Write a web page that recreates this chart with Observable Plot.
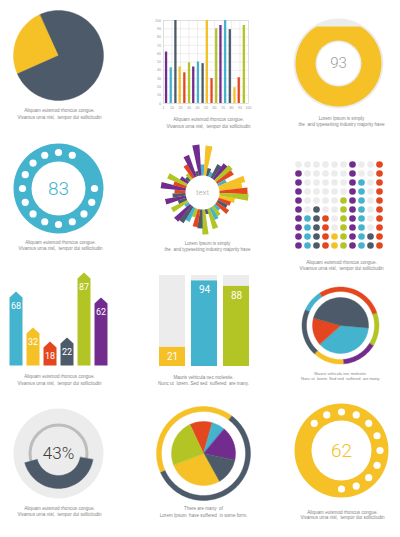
<!DOCTYPE html>
<html><head><meta charset="utf-8">
<script src="https://cdn.jsdelivr.net/npm/d3@7"></script>
<script src="https://cdn.jsdelivr.net/npm/@observablehq/plot@0.6"></script>
<style>
body{margin:0;background:#fff}
#chart{position:relative;width:400px;height:537px;overflow:hidden;background:#fff;font-family:"Liberation Sans",Arial,sans-serif}
#chart svg{position:absolute;max-width:none}
</style>
</head><body><div id="chart"></div>
<script>
// ---------- DATA ----------
const COLORS = {y:"#f5c126", s:"#4c5a69", t:"#44b3ce", r:"#e4471f", g:"#b3c425", p:"#712c8d"};
const LIGHT = "#ececec";

const pie1Values = [25, 75];
const pie1Colors = ["y", "s"];

const barX = [3, 8.5, 14, 19, 24.5, 30, 35, 40.5, 46, 51, 56.5, 62, 67, 72.5, 78, 83.5, 88.5, 94.5];
const barValues = [62, 43, 100, 44, 37, 49, 44, 50, 48, 100, 30, 90, 94, 100, 89, 19, 31, 94];
const barColors = ["p","t","s","y","r","g","p","t","s","y","r","g","p","t","s","y","r","g"];
const barXTicks = [0, 10, 20, 30, 40, 50, 60, 70, 80, 90, 100];
const barXTickLabels = ["1","10","20","30","40","50","60","70","80","90","100"];
const barYTicks = [0, 10, 20, 30, 40, 50, 60, 70, 80, 90, 100];

const donut3Value = 93;

const ring4Label = "83";
const ring4DotAngles = [0, 22.5, 90, 112.5, 135, 157.5, 180, 202.5, 225, 247.5, 270, 292.5, 315, 337.5];

const burstColors = ["t","y","s","t","s","p","g","r","t","y","y","r","g","y","r","s","r","t","g","t","g","s","g","s","r","g","t","s","p","t","g","s","p","s","r","p","r","g","p","s","g","r","p","s","p"];
const burstLengths = [28,47,25,22,32,36,38,36,26,44,40,45,46,33,30,28,32,24,28,30,38,22,42,36,35,26,32,36,38,22,35,26,38,30,28,42,30,38,26,22,24,32,40,22,48];
const burstLabel = "text";

const matrixCounts = [9, 4, 5, 4, 2, 6, 10, 8, 2, 10];
const matrixColors = ["p","t","s","r","y","g","p","t","s","r"];

const arrowValues = [68, 32, 18, 22, 87, 62];
const arrowColors = ["t","y","r","s","g","p"];

const tallValues = [21, 94, 88];
const tallColors = ["y","t","g"];

const ring9Values = [29, 14, 15, 13, 20, 9];
const ring9Colors = ["r","g","p","y","s","t"];
const pie9Values = [37, 16, 47];
const pie9Colors = ["t","r","s"];

const gauge10Value = 43;

const ring11Values = [42, 58];
const ring11Colors = ["y","s"];
const pie11Values = [11.4, 6.7, 17.2, 13.6, 27.2, 23.9];
const pie11Colors = ["r","t","p","s","y","g"];

const ring12Label = "62";
const ring12DotAngles = [-45, -22.5, 0, 22.5, 45, 67.5, 90, 112.5, 135, 157.5, 180];

const capA = "Aliquam euismod rhoncus congue.";
const capV = "Vivamus urna nisl,  tempor dui sollicitudin";
const capL1 = "Lorem Ipsum is simply";
const capL2 = "the  and typesetting industry majority have";
const capM1 = "Mauris vehicula nec molestie.";
const capM2 = "Nunc ut  lorem. Sed sed  suffered  are many.";
const capT1 = "There are many  of";
const capT2 = "Lorem Ipsum  have suffered  in some form.";

// ---------- HELPERS ----------
const chart = document.getElementById("chart");
const BASE_STYLE = {background:"transparent", overflow:"visible", fontFamily:"Liberation Sans, Arial, sans-serif"};
function pt(r, a){ const t = a*Math.PI/180; return {x: r*Math.sin(t), y: r*Math.cos(t)}; }
function arcPoly(r0, r1, a0, a1){
  const n = Math.max(2, Math.ceil(Math.abs(a1-a0)/2));
  const pts = [];
  for (let i=0;i<=n;i++) pts.push(pt(r1, a0+(a1-a0)*i/n));
  if (r0 <= 0) pts.push({x:0,y:0});
  else for (let i=n;i>=0;i--) pts.push(pt(r0, a0+(a1-a0)*i/n));
  return pts;
}
function ray(r0, r1, a, w0, w1){
  const t = a*Math.PI/180, ux = Math.sin(t), uy = Math.cos(t), px = Math.cos(t), py = -Math.sin(t);
  return [
    {x:r0*ux - px*w0/2, y:r0*uy - py*w0/2},
    {x:r1*ux - px*w1/2, y:r1*uy - py*w1/2},
    {x:r1*ux + px*w1/2, y:r1*uy + py*w1/2},
    {x:r0*ux + px*w0/2, y:r0*uy + py*w0/2}
  ];
}
function slices(values, colors, start, r0, r1){
  const total = d3.sum(values); let a = start;
  return values.map((v,i)=>{ const a0=a, a1=a+v/total*360; a=a1; return {pts:arcPoly(r0,r1,a0,a1), color:COLORS[colors[i]]}; });
}
function polyMarks(polys, stroke=true){
  return polys.map(p => Plot.line(p.pts, {x:"x", y:"y", curve:"linear-closed", fill:p.color, stroke: stroke ? p.color : "none", strokeWidth:0.4}));
}
function disc(r, opts){ return Plot.dot([{x:0,y:0}], {x:"x", y:"y", r, ...opts}); }
function label(t, opts){ return Plot.text([{x:0,y:0,t}], {x:"x", y:"y", text:"t", fontFamily:"Roboto", fontWeight:300, ...opts}); }
function roundPlot(size, marks){
  return Plot.plot({width:size, height:size, margin:0, style:BASE_STYLE,
    x:{domain:[-size/2,size/2], axis:null}, y:{domain:[-size/2,size/2], axis:null}, marks});
}
function place(svg, left, top){ svg.style.left = left+"px"; svg.style.top = top+"px"; chart.append(svg); }
function placeRound(cx, cy, size, marks){ place(roundPlot(size, marks), cx-size/2, cy-size/2); }

// ---------- PANEL 1: pie ----------
placeRound(58, 55, 100, polyMarks(slices(pie1Values, pie1Colors, 246, 0, 45)));

// ---------- PANEL 2: bar chart ----------
const barData = barValues.map((v,i)=>({x:barX[i], v, c:COLORS[barColors[i]]}));
place(Plot.plot({
  width:110, height:105, marginLeft:13, marginRight:12, marginTop:10, marginBottom:12,
  style:{...BASE_STYLE, fontSize:"3.6px", color:"#9a9a9a"},
  color:{type:"identity"},
  x:{domain:[0,100], ticks:barXTicks, tickFormat:d=>barXTickLabels[barXTicks.indexOf(d)], tickSize:0, tickPadding:2.5, label:null},
  y:{domain:[0,100], ticks:barYTicks, tickSize:0, tickPadding:2.5, label:null},
  marks:[
    Plot.ruleX(barXTicks, {stroke:"#e3e3e3", strokeWidth:0.6}),
    Plot.ruleY(barYTicks, {stroke:"#e3e3e3", strokeWidth:0.6}),
    Plot.frame({stroke:"#d6d6d6", strokeWidth:0.6}),
    Plot.ruleX(barData, {x:"x", y1:0, y2:"v", stroke:"c", strokeWidth:2.3})
  ]}), 150, 10);

// ---------- PANEL 3: liquid donut ----------
{
  const R = 43, level = -R + 2*R*donut3Value/100;
  const pts = d3.range(0, 361, 3).map(a => { const p = pt(R, a); return {x:p.x, y:Math.min(p.y, level)}; });
  placeRound(338, 63, 100, [
    disc(45, {fill:LIGHT}),
    Plot.line(pts, {x:"x", y:"y", curve:"linear-closed", fill:COLORS.y, stroke:"none"}),
    disc(23, {fill:LIGHT}),
    disc(21.5, {fill:"white"}),
    label(String(donut3Value), {fontSize:15, fill:"#9b9b9b"})
  ]);
}

// ---------- PANEL 4: dotted teal ring ----------
placeRound(58, 188, 100, [
  disc(45, {fill:COLORS.t}),
  disc(27, {fill:"white"}),
  Plot.dot(ring4DotAngles.map(a=>pt(36,a)), {x:"x", y:"y", r:3.6, fill:"white"}),
  label(ring4Label, {fontSize:19, fill:COLORS.t})
]);

// ---------- PANEL 5: radial burst ----------
{
  const n = burstLengths.length, step = 360/n;
  const polys = burstLengths.map((L,i)=>({pts:ray(17, L, i*step, 2.4, L*0.15), color:COLORS[burstColors[i]]}));
  placeRound(202, 192, 110, [
    ...polyMarks(polys, false),
    disc(15, {fill:"white"}),
    label(burstLabel, {fontSize:8, fill:"#a5a5a5"})
  ]);
}

// ---------- PANEL 6: dot matrix ----------
{
  const cells = [];
  matrixCounts.forEach((n, ci) => { for (let r=1;r<=10;r++) cells.push({col:ci+1, row:r, c: r > 10-n ? COLORS[matrixColors[ci]] : LIGHT}); });
  place(Plot.plot({width:100, height:99, margin:7, style:BASE_STYLE, color:{type:"identity"},
    x:{type:"point", domain:d3.range(1,11), padding:0, axis:null},
    y:{type:"point", domain:d3.range(1,11), padding:0, axis:null},
    marks:[Plot.dot(cells, {x:"col", y:"row", r:3.3, fill:"c"})]}), 288, 155);
}

// ---------- PANEL 7: arrow bars ----------
{
  const h = 0.382, tip = 6;
  const marks = arrowValues.map((v,i)=>Plot.line(
    [{x:i-h,y:0},{x:i-h,y:v},{x:i,y:v+tip},{x:i+h,y:v},{x:i+h,y:0}],
    {x:"x", y:"y", curve:"linear-closed", fill:COLORS[arrowColors[i]], stroke:"none"}));
  marks.push(Plot.text(arrowValues.map((v,i)=>({i,v})), {x:"i", y:d=>d.v-9, text:d=>String(d.v), fill:"white", fontSize:9, fontFamily:"Roboto"}));
  place(Plot.plot({width:120, height:100, margin:0, style:BASE_STYLE,
    x:{domain:[-0.912, 6.147], axis:null}, y:{domain:[0,100], axis:null}, marks}), 0, 265);
}

// ---------- PANEL 8: tall bars ----------
{
  const data = tallValues.map((v,i)=>({i, v, c:COLORS[tallColors[i]]}));
  place(Plot.plot({width:110, height:100, marginTop:5, marginBottom:4, marginLeft:8, marginRight:11, style:BASE_STYLE,
    color:{type:"identity"},
    x:{type:"band", domain:[0,1,2], paddingInner:0.2, paddingOuter:0, axis:null},
    y:{domain:[0,100], axis:null},
    marks:[
      Plot.barY(data, {x:"i", y1:()=>0, y2:()=>100, fill:LIGHT, inset:0}),
      Plot.barY(data, {x:"i", y1:()=>0, y2:"v", fill:"c", inset:0}),
      Plot.text(data, {x:"i", y:d=>d.v-10, text:d=>String(d.v), fill:"white", fontSize:10, fontFamily:"Roboto"})
    ]}), 150, 270);
}

// ---------- PANEL 9: pie in segmented ring ----------
placeRound(340, 325, 100, [
  ...polyMarks(slices(ring9Values, ring9Colors, 327, 34, 38.5)),
  ...polyMarks(slices(pie9Values, pie9Colors, 95, 0, 28))
]);

// ---------- PANEL 10: gauge ----------
placeRound(58, 453, 100, [
  disc(45, {fill:LIGHT}),
  disc(28.5, {fill:"none", stroke:"#bdbdbd", strokeWidth:3}),
  ...polyMarks([{pts:arcPoly(22, 35, 100, 100 + gauge10Value/100*360), color:COLORS.s}]),
  label(gauge10Value + "%", {fontSize:17, fill:"#3e3e3e", dy:0})
]);

// ---------- PANEL 11: pie in two-part ring ----------
placeRound(203, 453, 104, [
  ...polyMarks(slices(ring11Values, ring11Colors, 246, 42, 47)),
  ...polyMarks(slices(pie11Values, pie11Colors, 335, 0, 32))
]);

// ---------- PANEL 12: dotted yellow ring ----------
placeRound(341, 450, 100, [
  disc(47, {fill:COLORS.y}),
  disc(30, {fill:"white"}),
  Plot.dot(ring12DotAngles.map(a=>pt(38.5,a)), {x:"x", y:"y", r:3.6, fill:"white"}),
  label(ring12Label, {fontSize:19, fill:COLORS.y})
]);

// ---------- CAPTIONS ----------
const captions = [
  {x:59, y:110, t:capA}, {x:59, y:117, t:capV},
  {x:208, y:119, t:capA}, {x:208, y:126, t:capV},
  {x:341, y:118, t:capL1}, {x:341, y:124, t:capL2},
  {x:60, y:242, t:capA}, {x:60, y:248, t:capV},
  {x:207, y:243, t:capL1}, {x:207, y:249, t:capL2},
  {x:341, y:262, t:capA}, {x:341, y:268, t:capV},
  {x:59, y:376, t:capA}, {x:59, y:383, t:capV},
  {x:203, y:377, t:capM1}, {x:203, y:383, t:capM2},
  {x:340, y:373, t:capM1, s:4}, {x:340, y:378, t:capM2, s:4},
  {x:59, y:508, t:capA}, {x:59, y:514, t:capV},
  {x:203, y:508, t:capT1}, {x:203, y:515, t:capT2},
  {x:342, y:512, t:capA}, {x:342, y:517, t:capV}
];
place(Plot.plot({width:400, height:537, margin:0, style:{...BASE_STYLE, pointerEvents:"none"},
  x:{domain:[0,400], range:[0,400], axis:null}, y:{domain:[0,537], range:[0,537], axis:null},
  marks:[Plot.text(captions, {x:"x", y:"y", text:"t", fontSize:d=>d.s||4.6, fill:"#858585"})]}), 0, 0);
</script></body></html>
